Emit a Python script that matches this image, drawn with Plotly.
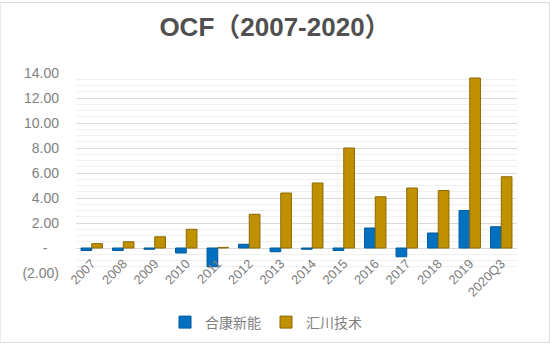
import plotly.graph_objects as go

categories = ["2007", "2008", "2009", "2010", "2011", "2012", "2013", "2014",
              "2015", "2016", "2017", "2018", "2019", "2020Q3"]
hekang = [-0.2, -0.2, -0.1, -0.4, -1.5, 0.3, -0.3, -0.1, -0.2, 1.6, -0.7, 1.2, 3.0, 1.7]
huichuan = [0.35, 0.5, 0.9, 1.5, 0.05, 2.7, 4.4, 5.2, 8.0, 4.1, 4.8, 4.6, 13.6, 5.7]
series_names = ["合康新能", "汇川技术"]
y_ticks = [-2, 0, 2, 4, 6, 8, 10, 12, 14]
y_ticktext = ["(2.00)", "-\u00a0\u00a0\u00a0", "2.00", "4.00", "6.00", "8.00", "10.00", "12.00", "14.00"]

W, H = 550, 351
top, bottom = 73, 72
plot_h = H - top - bottom
plot_w = W - 76 - 33

fig = go.Figure()
fig.add_trace(go.Bar(x=categories, y=hekang, name=series_names[0],
                     marker=dict(color="#0070C0", line=dict(color="#005A9C", width=1))))
fig.add_trace(go.Bar(x=categories, y=huichuan, name=series_names[1],
                     marker=dict(color="#BF9000", line=dict(color="#8C6A00", width=1))))

# x-axis labels sit just under the floor as in the reference
label_y_px = 258
pos = 1 - (label_y_px - top) / plot_h

fig.update_layout(
    width=W, height=H,
    margin=dict(l=76, r=33, t=top, b=bottom),
    paper_bgcolor="white", plot_bgcolor="white",
    title=dict(text="<b>OCF（2007-2020）</b>", x=0.5, xanchor="center", y=1 - 27 / H,
               yanchor="middle",
               font=dict(family="Liberation Sans, Arial, Noto Sans CJK SC", size=26, color="#505050")),
    barmode="group", bargap=0.32, bargroupgap=0.0,
    font=dict(family="Liberation Sans, Arial, Noto Sans CJK SC", color="#7f7f7f"),
    xaxis=dict(anchor="free", position=max(0.0, min(1.0, pos)), tickangle=-45,
               showline=False, showgrid=False, ticks="", zeroline=False,
               tickfont=dict(size=13, color="#7f7f7f")),
    yaxis=dict(range=[-2, 14], tickvals=y_ticks, ticktext=y_ticktext,
               showgrid=True, gridcolor="#d9d9d9", gridwidth=1,
               minor=dict(dtick=0.5, showgrid=True, gridcolor="#f0f0f0", gridwidth=1),
               zeroline=True, zerolinecolor="#d9d9d9", zerolinewidth=1,
               showline=False, ticks="", ticklabelstandoff=16,
               tickfont=dict(size=14, color="#7f7f7f")),
    legend=dict(orientation="h", x=(165 - 76) / plot_w, xanchor="left",
                y=-(330 - (H - bottom)) / plot_h,
                yanchor="middle", font=dict(size=14, color="#7f7f7f",
                                            family="Noto Sans CJK SC, Liberation Sans"),
                itemwidth=30, traceorder="normal", tracegroupgap=0),
    showlegend=True,
)

fig.add_shape(type="rect", xref="paper", yref="paper",
              x0=-76 / plot_w, x1=1 + 32.5 / plot_w,
              y0=-(bottom - 0.5) / plot_h, y1=1 + (top - 0.5) / plot_h,
              line=dict(color="#d9d9d9", width=1), fillcolor="rgba(0,0,0,0)", layer="below")

fig.write_html("out.html")
